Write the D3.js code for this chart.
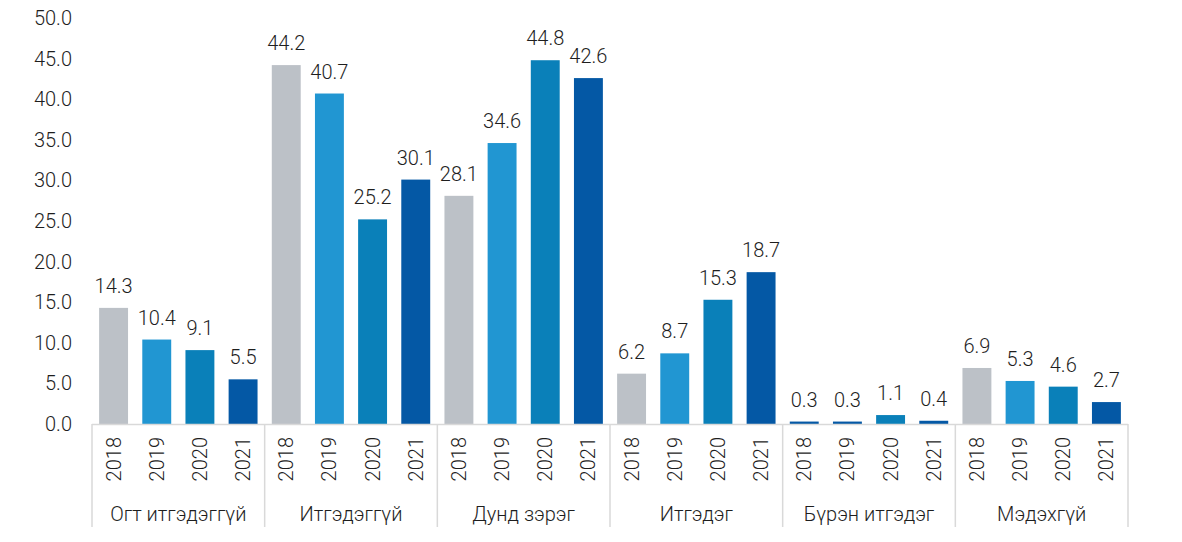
<!DOCTYPE html>
<html>
<head>
<meta charset="utf-8">
<script src="https://cdn.jsdelivr.net/npm/d3@7"></script>
<style>
  html, body { margin: 0; padding: 0; background: #ffffff; }
  svg { display: block; font-family: Roboto, "Noto Sans", sans-serif; font-weight: 300; }
</style>
</head>
<body>
<svg id="chart" width="1182" height="542"></svg>
<script>
const categories = ["Огт итгэдэггүй", "Итгэдэггүй", "Дунд зэрэг", "Итгэдэг", "Бүрэн итгэдэг", "Мэдэхгүй"];
const years = ["2018", "2019", "2020", "2021"];
const values2018 = [14.3, 44.2, 28.1, 6.2, 0.3, 6.9];
const values2019 = [10.4, 40.7, 34.6, 8.7, 0.3, 5.3];
const values2020 = [9.1, 25.2, 44.8, 15.3, 1.1, 4.6];
const values2021 = [5.5, 30.1, 42.6, 18.7, 0.4, 2.7];
const yTicks = [0, 5, 10, 15, 20, 25, 30, 35, 40, 45, 50];
const colors = ["#bcc1c7", "#2196d2", "#0a80b9", "#0458a5"];
// points drawn in a different colour in the reference
const colorOverrides = { "Бүрэн итгэдэг|2018": "#0458a5", "Бүрэн итгэдэг|2019": "#0458a5" };

const seriesValues = [values2018, values2019, values2020, values2021];
const svg = d3.select("#chart");

const plotLeft = 92, plotRight = 1128, plotTop = 18, plotBottom = 424;

const y = d3.scaleLinear().domain([0, 50]).range([plotBottom, plotTop]);
const x0 = d3.scaleBand().domain(categories).range([plotLeft, plotRight]).padding(0);
const x1 = d3.scaleBand().domain(years).range([0, x0.bandwidth()]).paddingInner(0.33).paddingOuter(0.165);

const textColor = "#1e1e1e";
const lineColor = "#d9d9d9";

// Y axis labels (no line)
const yAxis = d3.axisLeft(y).tickValues(yTicks).tickFormat(d3.format(".1f")).tickSize(0).tickPadding(0);
const yg = svg.append("g").attr("transform", `translate(72,0)`).call(yAxis);
yg.select(".domain").remove();
yg.selectAll("text").attr("fill", textColor).attr("font-size", 20).attr("font-family", "Roboto, sans-serif").attr("font-weight", 300);

// Bars
const groups = svg.append("g").selectAll("g").data(categories).join("g")
  .attr("transform", d => `translate(${x0(d)},0)`);

groups.each(function(cat, ci) {
  const g = d3.select(this);
  years.forEach((yr, yi) => {
    const v = seriesValues[yi][ci];
    g.append("rect")
      .attr("x", x1(yr))
      .attr("y", y(v))
      .attr("width", x1.bandwidth())
      .attr("height", y(0) - y(v))
      .attr("fill", colorOverrides[cat + "|" + yr] || colors[yi]);
    g.append("text")
      .attr("x", x1(yr) + x1.bandwidth() / 2)
      .attr("y", y(v) - 15)
      .attr("text-anchor", "middle")
      .attr("font-size", 20)
      .attr("fill", textColor)
      .text(d3.format(".1f")(v));
    g.append("text")
      .attr("transform", `translate(${x1(yr) + x1.bandwidth() / 2},437) rotate(-90)`)
      .attr("text-anchor", "end")
      .attr("dy", "0.35em")
      .attr("font-size", 20)
      .attr("fill", textColor)
      .text(yr);
  });
  g.append("text")
    .attr("x", x0.bandwidth() / 2)
    .attr("y", 521)
    .attr("text-anchor", "middle")
    .attr("font-size", 20)
    .attr("fill", textColor)
    .text(cat);
});

// Axis lines
svg.append("line")
  .attr("x1", plotLeft).attr("x2", plotRight)
  .attr("y1", plotBottom + 0.5).attr("y2", plotBottom + 0.5)
  .attr("stroke", lineColor).attr("stroke-width", 1.5);

const bounds = categories.map(c => x0(c)).concat([plotRight]);
svg.append("g").selectAll("line").data(bounds).join("line")
  .attr("x1", d => d).attr("x2", d => d)
  .attr("y1", plotBottom).attr("y2", 527)
  .attr("stroke", lineColor).attr("stroke-width", 1.5);
</script>
</body>
</html>
